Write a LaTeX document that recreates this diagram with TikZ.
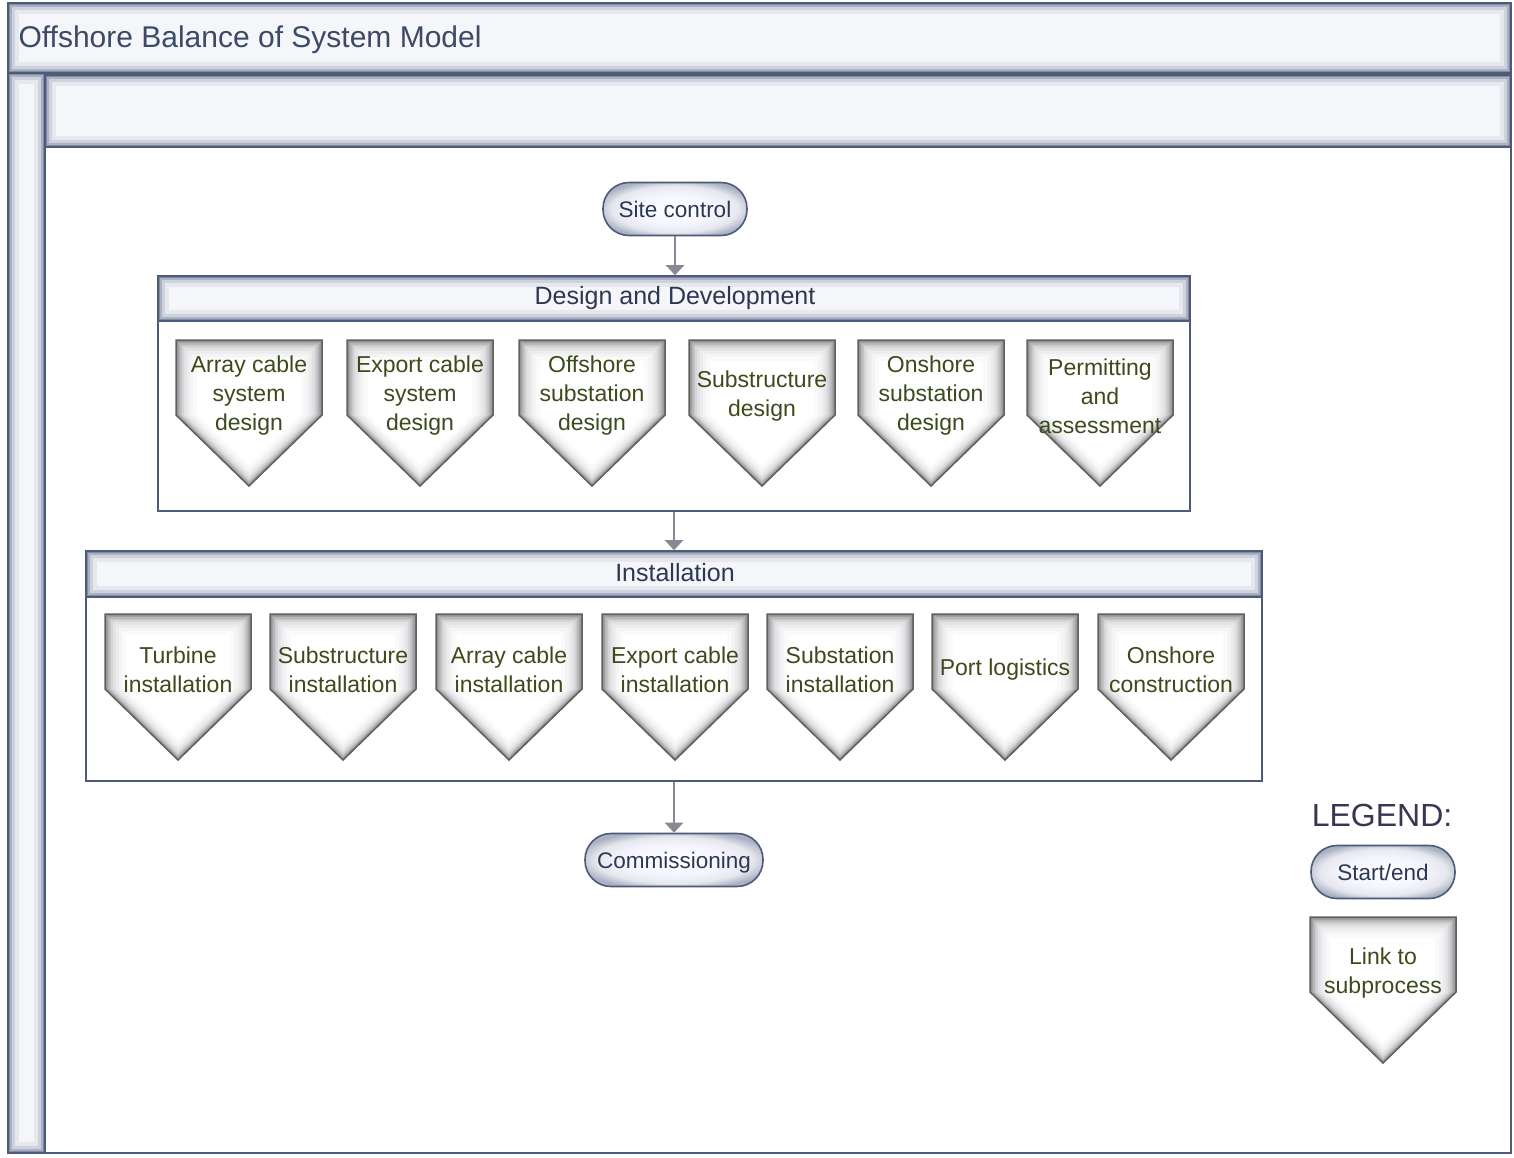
\documentclass[tikz,border=0pt]{standalone}
\usepackage{fontspec}
\setmainfont{Liberation Sans}
\usetikzlibrary{arrows.meta}
\definecolor{frameline}{HTML}{4D5B78}
\definecolor{gA}{HTML}{7F8AA1}
\definecolor{gB}{HTML}{A9B1C3}
\definecolor{gC}{HTML}{CDD2DD}
\definecolor{gD}{HTML}{E6E8EE}
\definecolor{gE}{HTML}{F5F6F9}
\definecolor{pA}{HTML}{8E8E92}
\definecolor{pB}{HTML}{A2A2A6}
\definecolor{pC}{HTML}{B5B5B9}
\definecolor{pD}{HTML}{C6C6CA}
\definecolor{pE}{HTML}{D5D5D8}
\definecolor{pF}{HTML}{E2E2E5}
\definecolor{pG}{HTML}{ECECEE}
\definecolor{pH}{HTML}{F4F4F5}
\definecolor{pI}{HTML}{FAFAFB}
\definecolor{titletext}{HTML}{3B4A66}
\definecolor{pilltext}{HTML}{2C3852}
\definecolor{penttext}{HTML}{3C4A1C}
\definecolor{pentline}{HTML}{5E6258}
\definecolor{arrowgray}{HTML}{8A8896}
\definecolor{legendtext}{HTML}{3A3550}
\pgfdeclareradialshading{pillglow}{\pgfpoint{0bp}{0bp}}{color(0bp)=(white); color(14bp)=(white!96!blue); color(22bp)=(gD); color(28bp)=(gB); color(50bp)=(gB)}
\tikzset{
  pill/.style={draw=frameline, line width=1.6pt, shading=pillglow, rounded corners=26pt,
    minimum width=144pt, minimum height=53pt, text=pilltext, font=\fontsize{22.5}{27}\selectfont,
    inner sep=0pt, text height=16pt, text depth=0pt},
  penttextstyle/.style={text=penttext, align=center, font=\fontsize{23}{29}\selectfont, inner sep=0pt},
  flow/.style={draw=arrowgray, line width=2.5pt, -{Triangle[width=18pt,length=10pt]}},
  container/.style={draw=frameline, line width=1.6pt, fill=white, inner sep=0pt},
  headtext/.style={text=pilltext, font=\fontsize{25}{30}\selectfont},
}
\newcommand\glowbox[4]{%
  \fill[gA] (#1,#2) rectangle (#3,#4);
  \fill[gB] (#1+2,#2+2) rectangle (#3-2,#4-2);
  \fill[gC] (#1+4,#2+4) rectangle (#3-4,#4-4);
  \fill[gD] (#1+7,#2+7) rectangle (#3-7,#4-7);
  \fill[gE] (#1+11,#2+11) rectangle (#3-11,#4-11);
  \draw[frameline, line width=1.6pt] (#1,#2) rectangle (#3,#4);
}
\newcommand\pentnode[4]{%
  \foreach \d/\c in {0/pA,1.5/pB,3/pC,4.5/pD,6/pE,8/pF,10.5/pG,13.5/pH,17/pI,21/white}{%
    \fill[\c, shift={(#2,#3+73)}, scale={(146-2*\d)/146}] (-73,-73) -- (73,-73) -- (73,2) -- (0,73) -- (-73,2) -- cycle;
  }
  \draw[pentline, line width=1.5pt] (#2-73,#3) -- (#2+73,#3) -- (#2+73,#3+75) -- (#2,#3+146) -- (#2-73,#3+75) -- cycle;
  \node[penttextstyle] (#1) at (#2,#3+56) {#4};
}
\begin{document}
\begin{tikzpicture}[x=1pt,y=-1pt]
\useasboundingbox (0,0) rectangle (1514,1157);
\fill[white] (0,0) rectangle (1514,1157);
% outer frame
\fill[white] (45,147) rectangle (1511,1153);
\draw[frameline, line width=1.6pt] (45,147) rectangle (1511,1153);
\glowbox{8}{3}{1511}{73}
\glowbox{8}{73}{45}{1153}
\glowbox{45}{75}{1511}{147}
\node[anchor=west, text=titletext, font=\fontsize{30}{34}\selectfont] (title) at (15,40) {Offshore Balance of System Model};

% start
\node[pill] (site) at (675,209) {Site control};

% Design and Development container
\node[container, minimum width=1032pt, minimum height=235pt] (dd) at (674,393.5) {};
\glowbox{158}{276}{1190}{321}
\node[headtext] (ddhead) at (675,298) {Design and Development};
\pentnode{d1}{249}{340}{Array cable\\system\\design}
\pentnode{d2}{420}{340}{Export cable\\system\\design}
\pentnode{d3}{592}{340}{Offshore\\substation\\design}
\pentnode{d4}{762}{340}{Substructure\\design}
\pentnode{d5}{931}{340}{Onshore\\substation\\design}
\pentnode{d6}{1100}{340}{Permitting\\and\\assessment}

% Installation container
\node[container, minimum width=1176pt, minimum height=230pt] (inst) at (674,666) {};
\glowbox{86}{551}{1262}{597}
\node[headtext] (insthead) at (675,573) {Installation};
\pentnode{i1}{178}{614}{Turbine\\installation}
\pentnode{i2}{343}{614}{Substructure\\installation}
\pentnode{i3}{509}{614}{Array cable\\installation}
\pentnode{i4}{675}{614}{Export cable\\installation}
\pentnode{i5}{840}{614}{Substation\\installation}
\pentnode{i6}{1005}{614}{Port logistics}
\pentnode{i7}{1171}{614}{Onshore\\construction}

% end
\node[pill, minimum width=178pt] (comm) at (674,860) {Commissioning};

% connectors
\draw[flow] (site.south) -- (site.south |- dd.north);
\draw[flow] (dd.south) -- (inst.north);
\draw[flow] (inst.south) -- (comm.north);

% legend
\node[text=legendtext, font=\fontsize{32}{36}\selectfont] (legend) at (1382,815) {LEGEND:};
\node[pill] (lstart) at (1383,872) {Start/end};
\pentnode{lsub}{1383}{917}{Link to\\subprocess}
\end{tikzpicture}
\end{document}
